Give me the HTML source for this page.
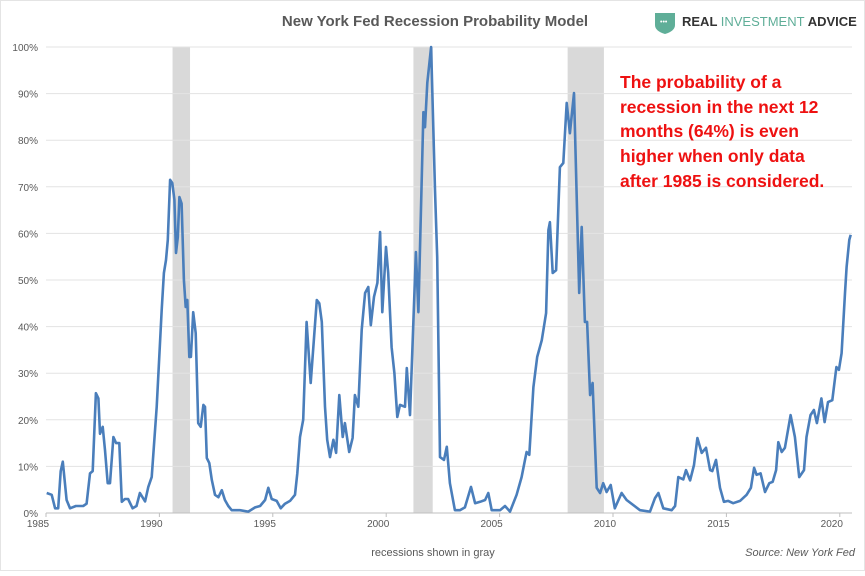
<!DOCTYPE html>
<html><head><meta charset="utf-8"><style>
body{margin:0;background:#fff;}
svg text{font-family:"Liberation Sans",sans-serif;}
</style></head><body>
<svg id="chart" width="865" height="571" viewBox="0 0 865 571" xmlns="http://www.w3.org/2000/svg">
<rect x="0.5" y="0.5" width="864" height="570" fill="#fff" stroke="#e4e4e4"/>
<text x="435" y="26" text-anchor="middle" font-size="15" font-weight="bold" fill="#595959">New York Fed Recession Probability Model</text>
<g>
<path d="M655 13 h20 v12 q0 6 -10 9 q-10 -3 -10 -9 z" fill="#5fae98"/>
<text x="660" y="24" font-size="7" fill="#fff">•••</text>
<text x="682" y="26" font-size="13" font-weight="bold" fill="#333">REAL <tspan fill="#5fae98" font-weight="normal">INVESTMENT</tspan> ADVICE</text>
</g>
<g id="recessions"></g>
<g id="grid"></g>
<g id="xaxis"></g>
<path id="line" fill="none" stroke="#4a7ebb" stroke-width="2.6" stroke-linejoin="round"/>
<g font-size="17.5" font-weight="bold" fill="#ee1111">
<text x="620" y="88">The probability of a</text>
<text x="620" y="113">recession in the next 12</text>
<text x="620" y="137">months (64%) is even</text>
<text x="620" y="162">higher when only data</text>
<text x="620" y="187">after 1985 is considered.</text>
</g>
<text x="433" y="556" text-anchor="middle" font-size="11" fill="#595959">recessions shown in gray</text>
<text x="855" y="556" text-anchor="end" font-size="11" font-style="italic" fill="#595959">Source: New York Fed</text>
</svg>
<script>
const years=[1985.03,1985.25,1985.40,1985.54,1985.65,1985.74,1985.91,1986.06,1986.32,1986.64,1986.79,1986.94,1987.06,1987.20,1987.31,1987.38,1987.50,1987.60,1987.72,1987.82,1987.97,1988.09,1988.23,1988.34,1988.48,1988.62,1988.82,1988.99,1989.14,1989.37,1989.51,1989.66,1989.88,1990.10,1990.20,1990.29,1990.37,1990.47,1990.57,1990.66,1990.73,1990.81,1990.88,1990.98,1991.08,1991.16,1991.23,1991.32,1991.39,1991.49,1991.60,1991.71,1991.82,1991.94,1992.01,1992.09,1992.20,1992.31,1992.45,1992.60,1992.75,1992.89,1993.04,1993.19,1993.55,1993.92,1994.22,1994.44,1994.66,1994.80,1994.95,1995.17,1995.35,1995.54,1995.76,1995.98,1996.08,1996.20,1996.34,1996.49,1996.67,1996.94,1997.05,1997.16,1997.30,1997.40,1997.52,1997.67,1997.79,1997.93,1998.08,1998.18,1998.37,1998.52,1998.62,1998.77,1998.92,1999.07,1999.21,1999.32,1999.46,1999.61,1999.73,1999.83,1999.99,2000.09,2000.24,2000.36,2000.49,2000.61,2000.83,2000.91,2001.05,2001.31,2001.42,2001.64,2001.71,2001.81,2001.98,2002.15,2002.25,2002.37,2002.55,2002.67,2002.81,2003.03,2003.25,2003.47,2003.74,2003.92,2004.14,2004.36,2004.50,2004.65,2005.02,2005.24,2005.46,2005.75,2005.97,2006.12,2006.19,2006.31,2006.49,2006.66,2006.86,2007.05,2007.15,2007.22,2007.34,2007.49,2007.66,2007.81,2007.96,2008.10,2008.28,2008.51,2008.62,2008.76,2008.86,2008.99,2009.10,2009.28,2009.43,2009.57,2009.72,2009.90,2010.08,2010.38,2010.60,2011.19,2011.63,2011.85,2012.00,2012.22,2012.59,2012.74,2012.88,2013.10,2013.22,2013.40,2013.57,2013.72,2013.91,2014.10,2014.28,2014.38,2014.54,2014.72,2014.89,2015.08,2015.30,2015.60,2015.89,2016.08,2016.22,2016.33,2016.51,2016.70,2016.89,2017.04,2017.19,2017.29,2017.44,2017.58,2017.83,2018.02,2018.21,2018.42,2018.53,2018.71,2018.86,2018.99,2019.19,2019.33,2019.48,2019.67,2019.85,2019.96,2020.08,2020.23,2020.30,2020.42,2020.48];
const probs=[4.3,3.9,1,1,9,11,2.8,1,1.5,1.5,2,8.5,9,25.7,24.6,17,18.5,13.5,6.4,6.4,16.3,15,15,2.4,3,3,1,1.5,4.3,2.5,5.6,7.7,22.8,43.6,51.5,54.3,58.6,71.5,70.8,67.2,55.8,59.2,67.8,66.4,50,44.2,45.7,33.5,33.5,43.1,38.6,19.3,18.5,23.2,22.8,11.8,10.7,7.1,3.9,3.4,4.9,2.8,1.5,0.6,0.6,0.3,1.2,1.5,2.8,5.4,3,2.6,1,2,2.6,3.9,8.5,16.3,20,41,27.9,45.7,45,41,22.8,15.7,12,15.7,12.9,25.3,16.3,19.3,13.1,16.1,25.3,22.8,39.3,47.2,48.5,40.3,46.4,49.4,60.3,43.1,57.1,51.5,35.6,30,20.6,23.2,22.8,31.1,21,56,43.1,86,82.8,92.3,100,69.3,54.9,12,11.4,14.2,6.4,0.6,0.6,1.2,5.6,2.1,2.4,2.8,4.3,0.6,0.6,1.5,0.3,3.9,7.7,11.4,13.1,12.5,27,33.5,37.1,42.9,60.7,62.4,51.5,52.1,74.2,75.1,88,81.5,90.1,47.2,61.4,41,41,25.3,27.9,5.4,4.3,6.4,4.5,6,1,4.3,2.8,0.6,0.3,3.2,4.3,1,0.6,1.5,7.7,7.2,9.2,7,10.3,16.1,12.9,14,9.2,9,11.4,5.4,2.4,2.6,2.1,2.6,3.9,5.4,9.7,8.2,8.5,4.5,6.4,6.7,9.2,15.2,13.1,14,21,16.3,7.7,9.2,16.3,21,22.1,19.3,24.6,19.5,23.8,24.2,31.3,30.7,34.3,47.2,52.8,58.6,59.7,64.4];
const recessionStarts=[1990.58,2001.2,2008.0];
const recessionEnds=[1991.35,2002.05,2009.6];
const yTicks=[0,10,20,30,40,50,60,70,80,90,100];
const xTicks=[1985,1990,1995,2000,2005,2010,2015,2020];
const NS="http://www.w3.org/2000/svg";
const X=y=>46+(y-1985)*22.68;
const Y=v=>513-v*4.66;
function mk(t,a,p){const e=document.createElementNS(NS,t);for(const k in a)e.setAttribute(k,a[k]);p.appendChild(e);return e;}
const rg=document.getElementById('recessions');
recessionStarts.forEach((s,i)=>{
 const r=mk('rect',{x:X(s),y:Y(100),width:X(recessionEnds[i])-X(s),height:Y(0)-Y(100),fill:'#d9d9d9'},rg);
 
 
});
const g=document.getElementById('grid');
yTicks.forEach(v=>{
 const l=mk('line',{x1:46,x2:852,y1:Y(v),y2:Y(v),stroke:v===0?'#bfbfbf':'#e3e3e3','stroke-width':1},g);
 
 
 const t=mk('text',{x:38,y:Y(v)+4,'text-anchor':'end','font-size':10,fill:'#595959'},g);
 t.textContent=v+'%';
 
 
});
const xg=document.getElementById('xaxis');
xTicks.forEach(yr=>{
 mk('line',{x1:X(yr),x2:X(yr),y1:513,y2:517,stroke:'#bfbfbf'},xg);
 const t=mk('text',{x:X(yr)-8,y:527,'text-anchor':'middle','font-size':10,fill:'#595959'},xg);
 t.textContent=yr;
 
 
});
document.getElementById('line').setAttribute('d',years.map((yr,i)=>(i?'L':'M')+X(yr).toFixed(1)+' '+Y(probs[i]).toFixed(1)).join(' '));
</script>
</body></html>
